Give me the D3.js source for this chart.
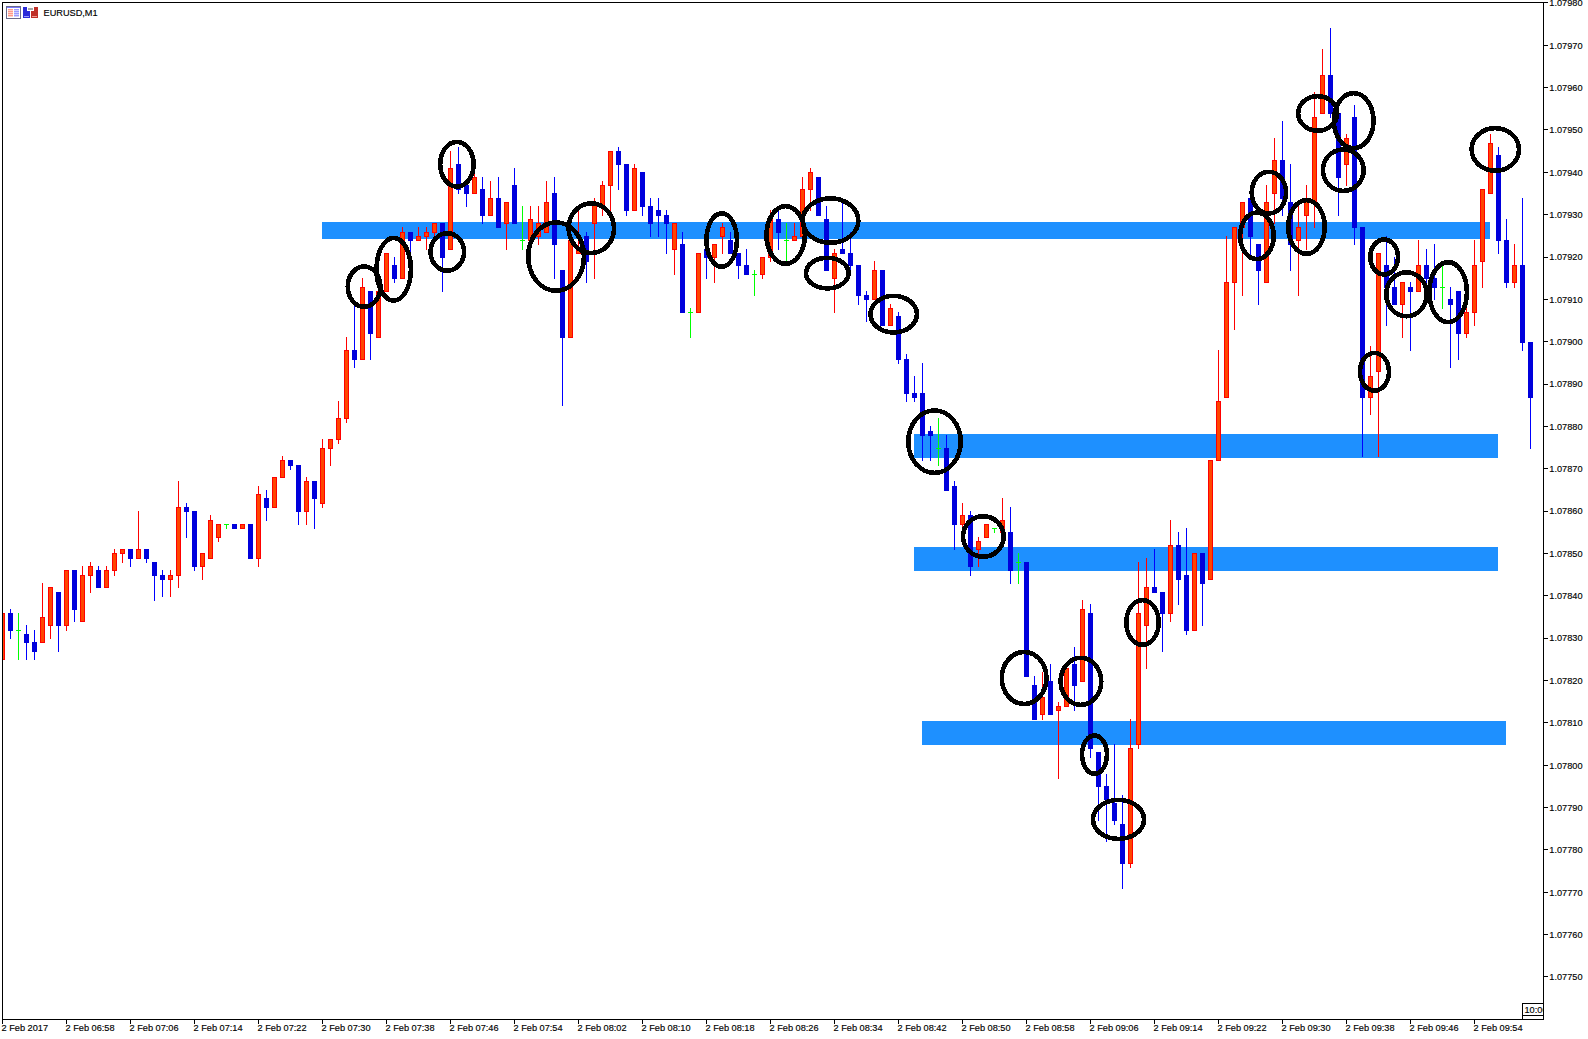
<!DOCTYPE html>
<html>
<head>
<meta charset="utf-8">
<script src="https://cdn.jsdelivr.net/npm/d3@7/dist/d3.min.js"></script>
<style>
html,body{margin:0;padding:0;background:#fff;}
svg{display:block;}
text{font-family:"Liberation Sans",Arial,sans-serif;font-size:9.2px;fill:#000;stroke:#000;stroke-width:0.15px;}
</style>
</head>
<body>
<svg id="chart" width="1588" height="1039"></svg>
<script>
// All prices are in points (0.00001) above 1.07000, so 825 means 1.07825.
const BASE_PRICE = 1.07;
const POINT = 0.00001;

const opens = [825,836,832,831,829,829,833,841,833,846,834,845,846,842,846,850,851,849,851,848,845,844,845,861,860,847,849,854,857,857,856,857,849,863,861,868,872,871,860,867,862,875,877,882,898,896,912,901,912,918,915,926,924,925,926,928,922,942,937,935,936,930,934,928,937,924,924,925,926,935,917,901,921,925,928,932,937,945,942,931,940,932,931,930,922,923,907,907,922,920,925,924,921,918,916,916,920,929,924,924,925,936,939,929,915,922,921,918,911,910,917,904,906,896,888,888,879,875,875,866,857,859,851,854,856,855,855,848,848,819,812,820,813,814,824,820,836,803,795,791,786,777,805,833,842,841,836,852,845,832,850,844,872,887,914,927,934,923,914,935,943,933,924,930,933,954,963,954,942,953,927,887,893,918,913,909,913,912,918,915,913,910,912,902,907,919,935,944,924,914,918,900];
const highs = [836,837,836,833,832,843,842,841,846,846,847,848,847,847,851,851,851,860,851,848,846,846,867,862,860,850,859,857,857,857,857,857,866,865,868,873,872,871,868,867,877,877,886,901,909,915,912,912,921,920,927,926,927,927,928,928,945,946,937,940,939,938,939,933,941,932,932,932,938,939,917,924,932,926,934,938,945,946,942,942,940,934,934,931,928,926,908,921,923,923,928,926,921,922,917,920,931,932,928,928,939,941,939,932,922,933,926,918,912,919,917,909,907,897,892,895,880,882,878,867,862,860,854,857,856,863,861,850,848,821,822,824,815,823,828,839,838,803,798,805,793,811,848,849,851,841,858,855,856,850,850,872,898,925,927,933,937,923,937,948,952,942,932,937,959,969,974,954,949,956,927,899,921,925,920,914,914,924,922,923,918,913,912,908,924,936,949,946,929,923,934,900];
const lows = [825,830,825,825,825,829,830,827,832,834,834,841,842,842,845,848,847,849,848,839,840,840,842,854,846,844,849,853,856,856,856,849,847,858,861,868,870,857,857,856,861,871,876,881,894,896,896,901,912,914,915,921,924,922,925,912,922,935,932,935,928,930,927,922,928,922,924,923,926,915,885,901,921,914,915,930,931,936,930,931,930,925,925,921,916,907,901,907,915,914,921,921,915,916,911,915,919,922,919,924,925,931,930,917,907,921,917,909,905,910,904,904,895,886,886,872,872,871,865,851,856,845,847,854,855,854,843,843,821,811,811,812,797,814,813,820,802,787,782,786,771,776,804,823,841,827,834,838,831,832,833,844,872,887,903,911,920,909,914,928,930,917,911,922,927,954,953,930,937,923,873,883,873,904,909,901,898,912,912,910,908,894,896,901,904,913,935,921,913,913,898,875];
const closes = [836,832,832,829,827,835,842,833,846,837,845,847,842,846,850,851,849,851,849,845,844,845,861,860,847,850,858,857,857,856,857,849,864,861,868,872,871,860,867,863,875,877,882,898,896,913,902,912,921,915,926,924,925,926,928,920,941,936,935,939,930,934,927,933,928,924,929,928,933,923,901,924,922,919,933,937,945,942,931,941,932,928,930,928,928,907,907,921,920,923,927,921,918,916,916,920,929,926,924,925,936,940,930,917,921,921,918,911,910,917,904,908,896,888,887,878,878,875,865,857,859,847,853,857,856,858,846,848,821,811,816,812,814,823,819,837,804,795,792,787,777,804,836,842,841,836,852,844,832,850,843,872,886,914,927,933,925,917,933,943,934,923,927,934,953,963,954,939,948,927,887,892,921,913,909,914,912,918,915,913,913,909,902,907,918,936,947,924,914,918,900,887];

const priceTicks = [980,970,960,950,940,930,920,910,900,890,880,870,860,850,840,830,820,810,800,790,780,770,760,750];
const timeTickBars = [0,8,16,24,32,40,48,56,64,72,80,88,96,104,112,120,128,136,144,152,160,168,176,184];
const timeTickLabels = ["2 Feb 2017","2 Feb 06:58","2 Feb 07:06","2 Feb 07:14","2 Feb 07:22","2 Feb 07:30","2 Feb 07:38","2 Feb 07:46","2 Feb 07:54","2 Feb 08:02","2 Feb 08:10","2 Feb 08:18","2 Feb 08:26","2 Feb 08:34","2 Feb 08:42","2 Feb 08:50","2 Feb 08:58","2 Feb 09:06","2 Feb 09:14","2 Feb 09:22","2 Feb 09:30","2 Feb 09:38","2 Feb 09:46","2 Feb 09:54"];

// Support and resistance zones (bar index and price points)
const zoneFromBar = [40,114,114,115];
const zoneToBar = [186,187,187,188];
const zoneTop = [928.3,878.2,851.5,810.4];
const zoneBottom = [924.2,872.6,845.9,804.8];

// Hand drawn circles (centre bar, centre price, radius in bars, radius in price points)
const ringBar = [45.2,48.9,55.6,56.8,69.2,73.6,89.9,97.9,103.5,103.1,111.4,116.5,122.6,127.7,134.8,142.5,136.5,139.5,158.3,156.8,163,164.4,168.9,167.6,171.5,172.7,175.5,180.7,186.6];
const ringPrice = [913,917.1,921.2,941.9,920.1,926.8,924,925.2,928.6,916.2,906.5,876.4,854,820.6,819.8,833.7,802.5,787.2,935.2,925,927.1,953.9,952.2,940.5,892.9,920,911.2,911.7,945.4];
const ringRadiusBars = [2.04,2.15,2.09,2.09,3.48,2.84,1.9,2.4,3.48,2.66,2.9,3.28,2.54,2.79,2.54,2.03,1.56,3.19,2.15,2.1,2.28,2.44,2.48,2.54,1.81,1.73,2.53,2.35,2.96];
const ringRadiusPrice = [4.77,7.39,4.42,5.27,8.08,5.86,6.3,6.8,5.24,3.61,4.32,7.37,4.79,6.14,5.55,5.27,4.53,4.6,4.91,5.5,6.33,4.08,6.49,4.89,4.44,4.13,5.19,7.08,5.03];

const COL = {blueBody:"#0000dc", blueWick:"#0000ff", redBody:"#ff4500", redLine:"#ff0000", doji:"#00ff00", zone:"#1e90ff", ink:"#000000"};

const svg = d3.select("#chart");
const plot = {left:2.5, top:2.5, right:1543.5, bottom:1019.5};

const x = d3.scaleLinear().domain([0,191]).range([2.5,1530.5]);
const y = d3.scaleLinear().domain([980,750]).range([2.9,976.95]);
const ryPx = v => Math.round(y(v));
const pxPerPoint = Math.abs(y(1)-y(0));
const pxPerBar = x(1)-x(0);

svg.append("defs").append("clipPath").attr("id","plotClip")
  .append("rect").attr("x",plot.left).attr("y",plot.top)
  .attr("width",plot.right-plot.left).attr("height",plot.bottom-plot.top);

const inner = svg.append("g").attr("clip-path","url(#plotClip)");

// Zones
inner.append("g").selectAll("rect").data(zoneTop).join("rect")
  .attr("x",(d,i)=>Math.floor(x(zoneFromBar[i])))
  .attr("width",(d,i)=>Math.floor(x(zoneToBar[i]))-Math.floor(x(zoneFromBar[i])))
  .attr("y",d=>ryPx(d))
  .attr("height",(d,i)=>ryPx(zoneBottom[i])-ryPx(d))
  .attr("fill",COL.zone)
  .attr("shape-rendering","crispEdges");

// Candles
const bars = opens.map((o,i)=>({i,o,h:highs[i],l:lows[i],c:closes[i]}));
const colorOf = d => d.c===d.o ? "doji" : (d.c>d.o ? "up" : "down");
const candles = inner.append("g").attr("shape-rendering","crispEdges")
  .selectAll("g").data(bars).join("g");

candles.append("line")
  .attr("x1",d=>x(d.i)).attr("x2",d=>x(d.i))
  .attr("y1",d=>ryPx(d.h)).attr("y2",d=>ryPx(d.l)+1)
  .attr("stroke",d=>({doji:COL.doji,up:COL.redLine,down:COL.blueWick})[colorOf(d)])
  .attr("stroke-width",1);

candles.filter(d=>colorOf(d)==="doji").append("line")
  .attr("x1",d=>x(d.i)-2.5).attr("x2",d=>x(d.i)+2.5)
  .attr("y1",d=>ryPx(d.c)+0.5).attr("y2",d=>ryPx(d.c)+0.5)
  .attr("stroke",COL.doji).attr("stroke-width",1);

candles.filter(d=>colorOf(d)!=="doji").append("rect")
  .attr("x",d=>x(d.i)-2)
  .attr("width",4)
  .attr("y",d=>ryPx(Math.max(d.o,d.c))+0.5)
  .attr("height",d=>ryPx(Math.min(d.o,d.c))-ryPx(Math.max(d.o,d.c)))
  .attr("fill",d=>colorOf(d)==="up"?COL.redBody:COL.blueBody)
  .attr("stroke",d=>colorOf(d)==="up"?COL.redLine:COL.blueBody)
  .attr("stroke-width",1);

// Rings
inner.append("g").selectAll("ellipse").data(ringBar).join("ellipse")
  .attr("cx",d=>x(d))
  .attr("cy",(d,i)=>y(ringPrice[i]))
  .attr("rx",(d,i)=>ringRadiusBars[i]*pxPerBar)
  .attr("ry",(d,i)=>ringRadiusPrice[i]*pxPerPoint)
  .attr("fill","none").attr("stroke",COL.ink).attr("stroke-width",4.6)
  .attr("shape-rendering","crispEdges");

// Frame
svg.append("rect").attr("x",plot.left).attr("y",plot.top)
  .attr("width",plot.right-plot.left).attr("height",plot.bottom-plot.top)
  .attr("fill","none").attr("stroke",COL.ink).attr("stroke-width",1)
  .attr("shape-rendering","crispEdges");

// Axes
const priceFmt = p => (BASE_PRICE + p*POINT).toFixed(5);
const yAxis = d3.axisRight(y).tickValues(priceTicks).tickFormat(priceFmt)
  .tickSize(4).tickSizeOuter(0).tickPadding(1.8).offset(0);
const yG = svg.append("g").attr("transform",`translate(${plot.right},0)`).call(yAxis);
yG.select(".domain").remove();
yG.selectAll("line").attr("stroke",COL.ink).attr("shape-rendering","crispEdges");
yG.selectAll("text").attr("dy","0.36em");

const xAxis = d3.axisBottom(x).tickValues(timeTickBars)
  .tickFormat((d,i)=>timeTickLabels[i]).tickSize(4).tickSizeOuter(0).tickPadding(0.6).offset(0);
const xG = svg.append("g").attr("transform",`translate(0,${plot.bottom})`).call(xAxis);
xG.select(".domain").remove();
xG.selectAll("line").attr("stroke",COL.ink).attr("shape-rendering","crispEdges");
xG.selectAll("text").attr("text-anchor","start").attr("x",-1);
xG.attr("font-family",null).attr("font-size",null).attr("text-anchor",null);
yG.attr("font-family",null).attr("font-size",null);

// Title and toolbar icons
svg.append("text").attr("x",43.5).attr("y",15.6).text("EURUSD,M1");

const icons = svg.append("g").attr("shape-rendering","crispEdges");
const iconRect = (xx,yy,w,h,f)=>icons.append("rect").attr("x",xx).attr("y",yy).attr("width",w).attr("height",h).attr("fill",f);
iconRect(6,6,15,13,"#6a6a8a");
iconRect(7,7,13,1,"#7a7aff");
iconRect(7,8,13,10,"#ffffff");
[9,11,13,15].forEach(r=>{iconRect(8,r,5,2,"#ff9a8a");iconRect(14,r,5,2,"#9a9aff");});
[10,12,14,16].forEach(r=>{iconRect(8,r,5,1,"#ffd0c8");iconRect(14,r,5,1,"#d0d0ff");});
iconRect(23,7,7,11,"#2a2ad8");
iconRect(31,7,7,11,"#c03028");
iconRect(24,16,5,1,"#9a9aff");
iconRect(32,16,5,1,"#f09a90");
iconRect(27,7,7,4,"#ffffff");
iconRect(28,8,5,2,"#a8a8a8");

// Current-time box at the right end of the time axis
const boxClip = svg.select("defs").append("clipPath").attr("id","boxClip");
boxClip.append("rect").attr("x",1522).attr("y",1000).attr("width",21).attr("height",20);
const box = svg.append("g");
box.append("rect").attr("x",1522.5).attr("y",1003.5).attr("width",21).attr("height",12)
  .attr("fill","#fff").attr("stroke",COL.ink).attr("shape-rendering","crispEdges");
box.append("line").attr("x1",1522.5).attr("x2",1522.5).attr("y1",1015).attr("y2",1019)
  .attr("stroke",COL.ink).attr("shape-rendering","crispEdges");
box.append("text").attr("x",1524.5).attr("y",1012.8).attr("clip-path","url(#boxClip)").text("10:00");
</script>
</body>
</html>
